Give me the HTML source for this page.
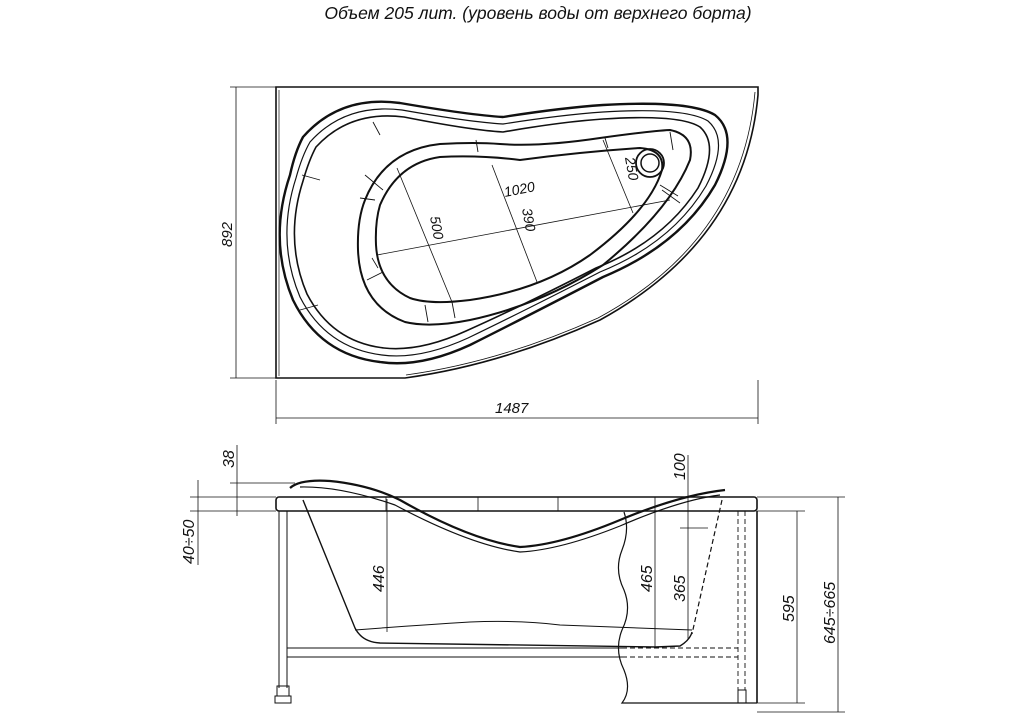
<!DOCTYPE html>
<html><head><meta charset="utf-8"><style>
html,body{margin:0;padding:0;background:#fff}
svg{display:block}
text{font-family:"Liberation Sans",sans-serif;font-style:italic;fill:#111}
</style></head><body>
<svg width="1024" height="720" viewBox="0 0 1024 720" xmlns="http://www.w3.org/2000/svg">
<text x="538" y="19" font-size="17.5" text-anchor="middle">Объем 205 лит. (уровень воды от верхнего борта)</text>

<g fill="none" stroke="#111">
<!-- TOP VIEW -->
<path d="M276 87 L758 87 L758 95 Q745 240 600 320 Q500 365 405 378 L276 378 Z" stroke-width="1.6"/>
<line x1="279" y1="90" x2="279" y2="376" stroke-width="0.7"/>
<path d="M755 92 Q742 240 598 318 Q500 362 406 375" stroke-width="0.8"/>
<!-- outer shell -->
<path d="M303 137 Q340 95 400 103 Q470 115 503 117 Q560 108 603 105 Q690 100 715 115 Q740 135 715 185 Q680 245 603 277 Q520 320 470 345 Q420 368 380 362 Q320 355 293 300 Q268 240 290 175 Q295 152 303 137 Z" stroke-width="2.4"/>
<path d="M310 142 Q345 103 402 110 Q470 122 503 124 Q560 115 603 112 Q685 107 708 121 Q730 140 706 186 Q672 243 600 272 Q520 313 468 338 Q420 360 382 355 Q326 348 300 297 Q276 240 296 178 Q302 156 310 142 Z" stroke-width="1.2"/>
<path d="M316 147 Q350 110 404 117 Q470 130 503 132 Q560 122 603 119 Q680 114 700 127 Q720 145 698 188 Q664 241 596 268 Q520 307 466 331 Q420 352 384 348 Q332 342 307 294 Q284 240 303 181 Q309 160 316 147 Z" stroke-width="1.6"/>
<!-- inner basin -->
<path d="M365 200 Q385 150 440 144 Q475 142 500 144 Q540 147 600 138 Q650 131 670 130 Q695 135 690 160 Q670 210 603 265 Q540 305 470 320 Q430 328 405 322 Q360 305 358 250 Q357 220 365 200 Z" stroke-width="2"/>
<path d="M380 205 Q398 163 440 157 Q480 155 520 160 Q580 152 640 148 Q665 150 662 170 Q650 210 590 255 Q540 290 470 300 Q430 305 410 298 Q378 283 376 245 Q375 222 380 205 Z" stroke-width="2"/>
<circle cx="650" cy="163" r="14" stroke-width="1.8"/>
<circle cx="650" cy="163" r="9" stroke-width="1.5"/>
<!-- segment ticks -->
<path d="M365 175 L383 190 M360 198 L375 200 M367 280 L383 272 M425 305 L428 322 M452 302 L455 318 M476 140 L478 152 M605 138 L608 148 M670 132 L673 150 M660 185 L678 196 M373 122 L380 135 M302 175 L320 180 M300 310 L318 305" stroke-width="0.9"/>
<!-- dimension lines -->
<g stroke-width="0.8">
<line x1="377" y1="255" x2="670" y2="200"/>
<line x1="397" y1="168" x2="452" y2="302"/>
<line x1="492" y1="165" x2="537" y2="282"/>
<line x1="603" y1="140" x2="633" y2="213"/>
<line x1="372" y1="258" x2="378" y2="268"/>
<line x1="662" y1="190" x2="680" y2="203"/>
</g>
</g>
<text font-size="14" transform="translate(505 197) rotate(-11)">1020</text>
<text font-size="14" transform="translate(430 217) rotate(80)">500</text>
<text font-size="14" transform="translate(522 209) rotate(80)">390</text>
<text font-size="14" transform="translate(625 158) rotate(80)">250</text>

<!-- top view dims -->
<g stroke="#111" stroke-width="0.8" fill="none">
<line x1="236" y1="87" x2="236" y2="378"/>
<line x1="230" y1="87" x2="276" y2="87"/>
<line x1="230" y1="378" x2="276" y2="378"/>
<line x1="276" y1="418" x2="758" y2="418"/>
<line x1="276" y1="380" x2="276" y2="424"/>
<line x1="758" y1="380" x2="758" y2="424"/>
</g>
<text font-size="15" transform="translate(232 247) rotate(-90)">892</text>
<text font-size="15" x="495" y="413">1487</text>

<!-- SIDE VIEW -->
<g fill="none" stroke="#111">
<rect x="276" y="497" width="481" height="14" rx="3" stroke-width="1.6"/>
<path d="M386 497 L386 511 M478 497 L478 511 M558 497 L558 511 M655 497 L655 511" stroke-width="0.8"/>
<path d="M290 488 Q300 479 330 481 Q370 485 400 500 Q470 540 520 547 Q560 545 620 520 Q680 495 725 490" stroke-width="2.2"/>
<path d="M300 487 Q340 486 395 505 Q470 545 520 552 Q560 550 620 526 Q680 500 720 495" stroke-width="1.2"/>
<path d="M303 500 L355 628 Q362 642 380 643 L655 647 L680 646 Q690 640 692 632" stroke-width="1.4"/>
<path d="M355 630 Q420 625 470 622 Q520 620 560 625 L692 630" stroke-width="1"/>
<path d="M722 500 L692 634" stroke-width="1.2" stroke-dasharray="5 3"/>
<path d="M279 511 L279 688 M287 511 L287 688" stroke-width="1"/>
<rect x="277" y="686" width="12" height="10" stroke-width="1"/>
<rect x="275" y="696" width="16" height="7" stroke-width="1"/>
<path d="M287 648 L622 648 M287 657 L622 657" stroke-width="1"/>
<path d="M622 648 L738 648 M622 657 L738 657" stroke-width="0.9" stroke-dasharray="5 3"/>
<line x1="757" y1="511" x2="757" y2="703" stroke-width="1.6"/>
<path d="M738 511 L738 690 M745 511 L745 690" stroke-width="0.9" stroke-dasharray="5 3"/>
<rect x="738" y="690" width="8" height="13" stroke-width="1"/>
<path d="M624 512 Q630 530 622 550 Q614 570 624 590 Q632 610 622 630 Q614 650 624 670 Q632 690 622 703 L757 703" stroke-width="1.2"/>
</g>
<g stroke="#111" stroke-width="0.8" fill="none">
<line x1="230" y1="483" x2="295" y2="483"/>
<line x1="190" y1="497" x2="276" y2="497"/>
<line x1="190" y1="511" x2="276" y2="511"/>
<line x1="237" y1="445" x2="237" y2="516"/>
<line x1="198" y1="480" x2="198" y2="565"/>
<line x1="387" y1="499" x2="387" y2="632"/>
<line x1="655" y1="511" x2="655" y2="648"/>
<line x1="688" y1="455" x2="688" y2="640"/>
<line x1="680" y1="528" x2="708" y2="528"/>
<line x1="757" y1="511" x2="805" y2="511"/>
<line x1="757" y1="703" x2="805" y2="703"/>
<line x1="757" y1="497" x2="845" y2="497"/>
<line x1="757" y1="712" x2="845" y2="712"/>
<line x1="797" y1="511" x2="797" y2="703"/>
<line x1="838" y1="497" x2="838" y2="712"/>
</g>
<text font-size="16" transform="translate(234 468) rotate(-90)">38</text>
<text font-size="16" transform="translate(194 564) rotate(-90)">40÷50</text>
<text font-size="16" transform="translate(384 592) rotate(-90)">446</text>
<text font-size="16" transform="translate(652 592) rotate(-90)">465</text>
<text font-size="16" transform="translate(685 602) rotate(-90)">365</text>
<text font-size="16" transform="translate(685 480) rotate(-90)">100</text>
<text font-size="16" transform="translate(794 622) rotate(-90)">595</text>
<text font-size="16" transform="translate(835 644) rotate(-90)">645÷665</text>
</svg>
</body></html>
